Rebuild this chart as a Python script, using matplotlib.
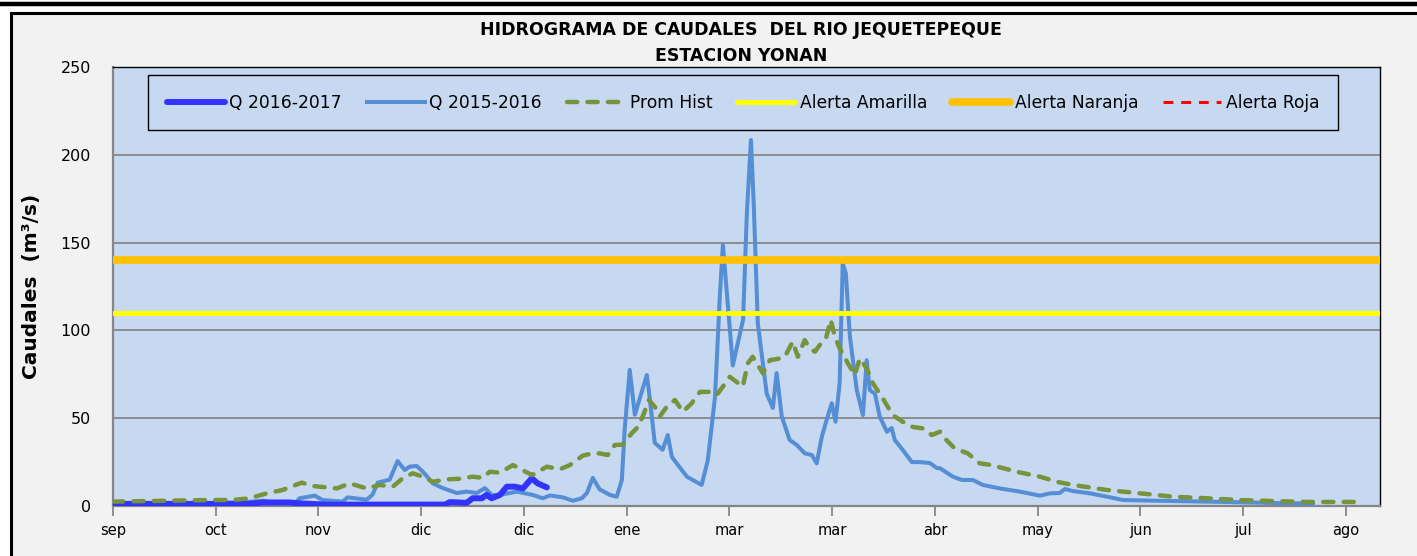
import numpy as np
import matplotlib
matplotlib.use("Agg")
import matplotlib.pyplot as plt
from matplotlib.patches import Rectangle
from matplotlib.lines import Line2D

# --- datos (dias desde el 1 de setiembre, caudal m3/s) ---
meses = ["sep", "oct", "nov", "dic", "dic", "ene", "mar", "mar", "abr", "may", "jun", "jul", "ago"]

q1617_dias = [0, 40, 43.7, 51.5, 54.5, 62.4, 97, 98.3, 103.3, 105, 107.7, 109.1, 110.6, 113,
              115, 117.3, 119.7, 122.3, 124, 126.7]
q1617 = [1.2, 1.2, 2, 2, 1.5, 0.8, 0.8, 2.2, 1.8, 4.4, 4.4, 6.3, 4.4, 6.3, 11, 11, 10, 15.8, 12.9, 10.6]

q1516_dias = [0, 25.3, 37, 43.7, 48.7, 53, 54.5, 58.9, 61.2, 67.1, 68.5, 74.1, 75.8, 77.3, 80.8,
              83.1, 85.2, 86.6, 88.7, 90.5, 93.4, 96.3, 100.4, 103.3, 106.2, 108.6, 110.6, 113,
              117.9, 122.6, 125.5, 127.6, 131.4, 134.3, 136.9, 138.4, 140.1, 142.1, 145.1, 147.1,
              148.6, 149.4, 150.9, 152.4, 155.9, 156.7, 158.2, 160.5, 162, 163.2, 164.6, 167.6,
              171.9, 173.7, 175.8, 177.2, 178.1, 179.6, 181, 184, 185.1, 186.3, 187.1, 188.3,
              190.9, 192.7, 193.8, 195.3, 197.6, 199.7, 202, 204.1, 205.5, 207, 208.4, 209.9,
              211, 212.2, 213.1, 214, 215.2, 217.2, 219, 220.1, 221, 222.5, 223.9, 226, 227.4,
              228.3, 230.6, 233.3, 235.6, 238.5, 240.6, 241.5, 245.3, 247.9, 251.1, 254, 259,
              264.8, 270.7, 273.6, 276.5, 278, 280.3, 285.3, 290.3, 294.9, 304.9, 319.5, 334.1,
              350.4]
q1516 = [1.5, 1.5, 2, 3, 1.5, 1.2, 4.4, 5.9, 3.4, 2.5, 4.9, 3.6, 6.5, 13.3, 15, 25.6, 20.5, 22.4,
         22.8, 19.5, 12.9, 10.2, 7.4, 8.2, 7.4, 10.2, 6.3, 6.3, 8.2, 6.3, 4.4, 6, 4.9, 3, 4.4, 7.4,
         16, 9.5, 6.3, 5.3, 14.8, 43, 77.5, 52, 74.6, 62, 36, 32, 40.4, 28, 24.3, 16.7, 12, 26, 62,
         119, 148.6, 113.5, 80, 106, 166.7, 208.4, 172.5, 104, 64, 55.8, 75.7, 51, 37.6, 34.7, 30,
         29, 24.3, 39.5, 49, 58.5, 48, 70, 138, 132.5, 96.4, 66, 51.8, 83, 66, 64, 51, 42.3, 44.4,
         37.6, 32, 25, 25, 24.5, 21.6, 21.5, 16.7, 14.8, 14.8, 12, 10, 8.2, 5.9, 7.2, 7.4, 9.7,
         8.5, 7.2, 5.3, 3.4, 3, 2.5, 1.9, 1.3]

prom_dias = [0, 28.2, 34.9, 39.9, 44.9, 49.5, 55.1, 58.3, 62.4, 65.4, 69.1, 74.1, 77.9, 81.7,
             84.6, 87.5, 90.5, 93.4, 97.5, 101.3, 105, 108, 110, 113, 116.8, 119.5, 122.4, 126.7,
             130.5, 133.4, 137.2, 139.2, 142.1, 144.5, 146.5, 148.9, 151.5, 153.3, 154.7, 156.5,
             158.2, 159.7, 161.7, 164.1, 166.4, 169, 171.4, 174.3, 176.3, 178.1, 180.1, 183.9,
             185.4, 186.8, 189.8, 191.8, 194.7, 196.2, 198.5, 200, 202, 203.5, 205, 206.4, 208.2,
             209.6, 210.8, 212.2, 214.6, 216.6, 218.1, 220.1, 221.9, 224.8, 227.7, 230.6, 233.6,
             236.5, 239.1, 241.5, 242.9, 245.8, 249.6, 253.1, 256.6, 263.9, 270.7, 275.6, 280.3,
             290.3, 300, 309.6, 319.5, 329.1, 338.8, 348.7, 362.7]
prom_hist = [2.5, 3.4, 3.4, 4.4, 7.2, 9.1, 13.3, 11.4, 10.6, 10, 12.9, 10, 12, 11, 15.8, 18.6,
             16.7, 13.8, 15.2, 15.5, 16.7, 16, 19.5, 19, 23.3, 20.5, 17.6, 22.4, 20.9, 23.3, 28.7,
             29.6, 30, 29, 34.7, 35, 41.5, 45, 51, 60.4, 56.5, 51, 56.5, 60.4, 53.7, 58.5, 65, 65,
             63.2, 68, 73.6, 68, 81.3, 85, 75.6, 83, 84, 85, 93.6, 85, 94.5, 89.8, 87.9, 91.7,
             95.5, 106, 96.4, 89.8, 81.3, 74.6, 84, 78.4, 69.9, 61.3, 51.8, 48, 45, 44.2, 40.4,
             42.3, 38.5, 32.8, 30, 24.3, 23.3, 19.5, 16.7, 13.8, 12, 9.1, 7.2, 5.3, 4.4, 3.4, 2.8,
             2.3, 2.3]

# umbrales (la serie tiene un dato faltante cerca del dia 179)
alerta_dias = [0, 178.3, np.nan, 179.7, 370]
alerta_amarilla = 110
alerta_naranja = 140

W, H = 1417, 556
fig = plt.figure(figsize=(W / 100, H / 100), dpi=100, facecolor="white")

# marco exterior estilo Excel
fig.add_artist(Rectangle((11 / W, -0.1), 2, (H - 12.5) / H + 0.1, transform=fig.transFigure,
                         facecolor="#F2F2F2", edgecolor="black", lw=2.2, zorder=0))
fig.add_artist(Line2D([0, 1], [1 - 4 / H] * 2, transform=fig.transFigure, color="black", lw=3.2))

ax = fig.add_axes([113 / W, 50 / H, 1267 / W, 439 / H], facecolor="#C6D9F1")

ax.plot(q1516_dias, q1516, color="#558ED5", lw=2.9, solid_joinstyle="round", zorder=3,
        label="Q 2015-2016")
ax.plot(q1617_dias, q1617, color="#3333FF", lw=4.3, solid_joinstyle="round",
        solid_capstyle="round", zorder=4, label="Q 2016-2017")
ax.plot(prom_dias, prom_hist, color="#77933C", lw=3.2, dashes=(2.3, 2.3), dash_capstyle="round",
        zorder=5, label="Prom Hist")
ax.plot(alerta_dias, [alerta_amarilla] * len(alerta_dias), color="#FFFF00", lw=3.6,
        solid_capstyle="round", zorder=6, label="Alerta Amarilla")
ax.plot(alerta_dias, [alerta_naranja] * len(alerta_dias), color="#FFC000", lw=5.5,
        solid_capstyle="round", zorder=6, label="Alerta Naranja")
ax.plot([], [], color="#FF0000", lw=2.2, dashes=(3.2, 2.6), label="Alerta Roja")

ax.set_xlim(0, 370)
ax.set_ylim(0, 250)
ax.set_yticks(np.arange(0, 251, 50))
ax.set_xticks(np.arange(0, 361, 30))
ax.set_xticklabels(meses)
ax.grid(axis="y", color="#868686", lw=1.3)
ax.set_axisbelow(True)
ax.tick_params(axis="y", length=0, labelsize=11.5, pad=16)
ax.tick_params(axis="x", length=7, width=1.3, color="#868686", labelsize=10.5, pad=5)

for s in ["left", "bottom"]:
    ax.spines[s].set_color("#868686")
    ax.spines[s].set_linewidth(1.6)
for s in ["top", "right"]:
    ax.spines[s].set_color("black")
    ax.spines[s].set_linewidth(1.0)

ax.set_ylabel("Caudales  (m³/s)", fontsize=14.5, fontweight="bold")
ax.yaxis.set_label_coords(-72 / 1267, 0.5)

handles, labels = ax.get_legend_handles_labels()
orden = [1, 0, 2, 3, 4, 5]
leg = ax.legend([handles[i] for i in orden], [labels[i] for i in orden],
                loc="upper left", bbox_to_anchor=(35 / 1267, 0.982, 1190 / 1267, 0.0),
                mode="expand", ncol=6, fontsize=12.3, frameon=True, fancybox=False,
                edgecolor="black", facecolor="#C6D9F1", framealpha=1, borderpad=1.1,
                handlelength=3.4, handletextpad=0.25, borderaxespad=0)
leg.get_frame().set_linewidth(1.0)

fig.text(741 / W, 1 - 30 / H, "HIDROGRAMA DE CAUDALES  DEL RIO JEQUETEPEQUE", ha="center",
         va="center", fontsize=12.5, fontweight="bold")
fig.text(741 / W, 1 - 56 / H, "ESTACION YONAN", ha="center", va="center", fontsize=12.5,
         fontweight="bold")

fig.savefig("out.png", dpi=100, facecolor=fig.get_facecolor())
